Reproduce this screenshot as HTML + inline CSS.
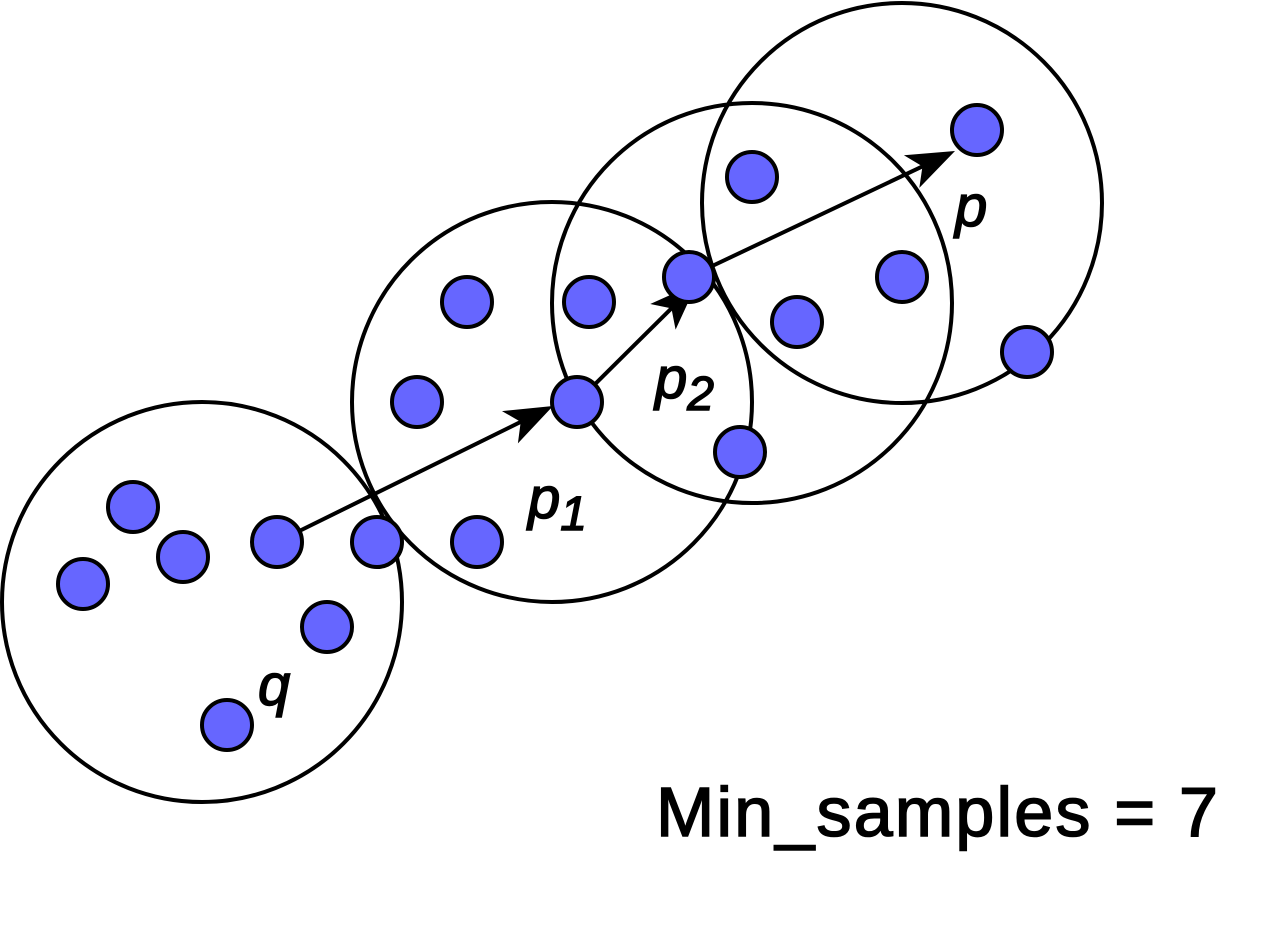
<!DOCTYPE html>
<html><head><meta charset="utf-8"><style>
html,body{margin:0;padding:0;background:#fff;}
svg{display:block;}
</style></head><body>
<svg id="chart" width="1280" height="935" viewBox="0 0 1280 935" xmlns="http://www.w3.org/2000/svg">
<g id="circles"></g>
<g id="arrows"></g>
<g id="points"></g>
<g id="labels" font-family="Liberation Sans, sans-serif" font-style="italic" fill="#000" stroke="#000" stroke-width="1.5">
<text x="258" y="705" font-size="58">q</text>
<text x="528" y="518" font-size="58">p<tspan font-size="48" dy="12">1</tspan></text>
<text x="655" y="398" font-size="58">p<tspan font-size="48" dy="12">2</tspan></text>
<text x="955" y="226" font-size="58">p</text>
</g>
<text x="656" y="836" font-family="Liberation Sans, sans-serif" font-size="70" letter-spacing="2.2" fill="#000" stroke="#000" stroke-width="1.6">Min_samples = 7</text>
</svg>
<script>
const circleCx=[202,552,752,902];
const circleCy=[602,402,303,203];
const radius=200;
const pointX=[133,183,83,277,377,327,227,467,417,477,589,577,740,689,797,902,752,977,1027];
const pointY=[507,557,584,542,542,627,725,302,402,542,302,402,452,277,322,277,177,130,352];
const arrowFrom=[[277,542],[577,402],[689,277]];
const arrowTo=[[553,406],[697,283],[955,151]];
const NS='http://www.w3.org/2000/svg';
const gc=document.getElementById('circles');
circleCx.forEach((cx,i)=>{
  const c=document.createElementNS(NS,'circle');
  
  
  c.setAttribute('cx',cx);c.setAttribute('cy',circleCy[i]);c.setAttribute('r',radius);
  c.setAttribute('fill','none');c.setAttribute('stroke','#000');c.setAttribute('stroke-width','4');
  gc.appendChild(c);
});
const ga=document.getElementById('arrows');
arrowFrom.forEach((f,i)=>{
  const t=arrowTo[i];
  const dx=t[0]-f[0],dy=t[1]-f[1],L=Math.hypot(dx,dy),ux=dx/L,uy=dy/L;
  const hl=48,hw=18,back=12;
  const l=document.createElementNS(NS,'line');
  
  
  l.setAttribute('x1',f[0]);l.setAttribute('y1',f[1]);
  l.setAttribute('x2',t[0]-ux*hl*0.6);l.setAttribute('y2',t[1]-uy*hl*0.6);
  l.setAttribute('stroke','#000');l.setAttribute('stroke-width','4');
  ga.appendChild(l);
  const bx=t[0]-ux*hl,by=t[1]-uy*hl,nx=-uy,ny=ux;
  const mx=t[0]-ux*(hl-back),my=t[1]-uy*(hl-back);
  const p=document.createElementNS(NS,'polygon');
  
  
  p.setAttribute('points',`${t[0]},${t[1]} ${bx+nx*hw},${by+ny*hw} ${mx},${my} ${bx-nx*hw},${by-ny*hw}`);
  p.setAttribute('fill','#000');
  ga.appendChild(p);
});
const gp=document.getElementById('points');
pointX.forEach((x,i)=>{
  const c=document.createElementNS(NS,'circle');
  
  
  c.setAttribute('cx',x);c.setAttribute('cy',pointY[i]);c.setAttribute('r',25);
  c.setAttribute('fill','#6666ff');c.setAttribute('stroke','#000');c.setAttribute('stroke-width','4');
  gp.appendChild(c);
});
</script>
</body></html>
